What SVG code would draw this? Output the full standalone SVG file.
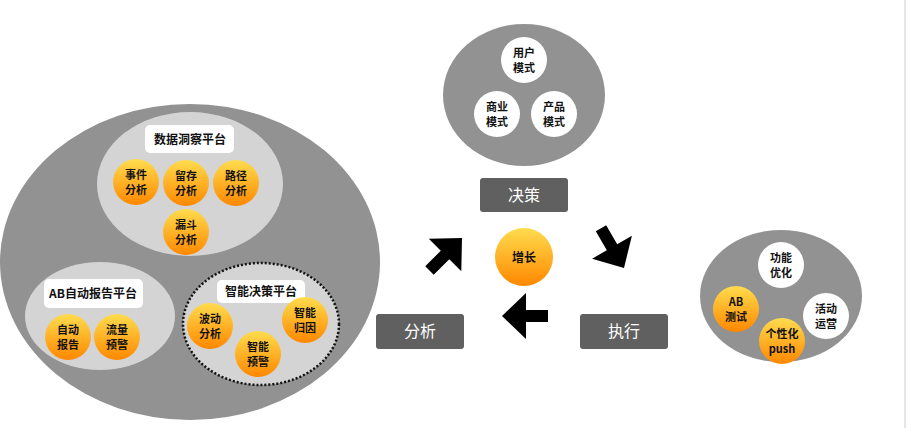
<svg xmlns="http://www.w3.org/2000/svg" width="908" height="428" viewBox="0 0 908 428">
<defs>
<linearGradient id="og" x1="0" y1="0" x2="0" y2="1"><stop offset="0" stop-color="#ffdc4e"/><stop offset="1" stop-color="#ff8800"/></linearGradient>
<style>
text{font-family:"Noto Sans CJK SC","Liberation Sans",sans-serif;text-anchor:middle}
.big{fill:#929292}.inner{fill:#d4d4d4}.lab{fill:#fff}
.o{fill:url(#og)}.w{fill:#fff}
.t{font-size:11px;font-weight:bold;fill:#111}
.lt{font-size:12px;font-weight:bold;fill:#111}
.bx{fill:#606060}.bt{font-size:16px;fill:#fff}
.arr{fill:#000}
</style>
<path id="ar" d="M0,0 L-24,-23 L-24,-6 L-46,-6 L-46,6 L-24,6 L-24,23 Z"/>
</defs>
<rect width="908" height="428" fill="#fff"/>
<line x1="905" y1="0" x2="905" y2="428" stroke="#ccc" stroke-width="1"/>
<g id="analysis-group">
<ellipse class="big" cx="190" cy="262" rx="190" ry="158"/>
<g id="data-insight">
<ellipse class="inner" cx="190" cy="184" rx="93" ry="72"/>
<rect class="lab" x="145" y="125" width="89" height="28" rx="5"/>
<text class="lt" x="190" y="144">数据洞察平台</text>
<circle class="o" cx="136" cy="182" r="23"/><text class="t" x="136" y="179">事件</text><text class="t" x="136" y="194">分析</text>
<circle class="o" cx="186" cy="183" r="23"/><text class="t" x="186" y="180">留存</text><text class="t" x="186" y="195">分析</text>
<circle class="o" cx="236" cy="183" r="23"/><text class="t" x="236" y="180">路径</text><text class="t" x="236" y="195">分析</text>
<circle class="o" cx="186" cy="232" r="23"/><text class="t" x="186" y="229">漏斗</text><text class="t" x="186" y="244">分析</text>
</g>
<g id="ab-report">
<ellipse class="inner" cx="100" cy="316" rx="75" ry="54"/>
<rect class="lab" x="44" y="279" width="99" height="29" rx="5"/>
<text class="lt" x="93" y="298">AB自动报告平台</text>
<circle class="o" cx="68" cy="337" r="23"/><text class="t" x="68" y="334">自动</text><text class="t" x="68" y="349">报告</text>
<circle class="o" cx="117" cy="337" r="23"/><text class="t" x="117" y="334">流量</text><text class="t" x="117" y="349">预警</text>
</g>
<g id="smart-decision">
<ellipse class="inner" cx="261" cy="324" rx="78" ry="61" stroke="#111" stroke-width="2.5" stroke-dasharray="2,2"/>
<rect class="lab" x="217" y="280" width="88" height="23" rx="5"/>
<text class="lt" x="261" y="296">智能决策平台</text>
<circle class="o" cx="210" cy="326" r="23"/><text class="t" x="210" y="323">波动</text><text class="t" x="210" y="338">分析</text>
<circle class="o" cx="258" cy="354" r="23"/><text class="t" x="258" y="351">智能</text><text class="t" x="258" y="366">预警</text>
<circle class="o" cx="305" cy="320" r="23"/><text class="t" x="305" y="317">智能</text><text class="t" x="305" y="332">归因</text>
</g>
</g>
<g id="decision-group">
<ellipse class="big" cx="524" cy="95" rx="81" ry="71"/>
<circle class="w" cx="524" cy="60" r="23"/><text class="t" x="524" y="57">用户</text><text class="t" x="524" y="72">模式</text>
<circle class="w" cx="497" cy="114" r="23"/><text class="t" x="497" y="111">商业</text><text class="t" x="497" y="126">模式</text>
<circle class="w" cx="554" cy="114" r="23"/><text class="t" x="554" y="111">产品</text><text class="t" x="554" y="126">模式</text>
</g>
<g id="exec-group">
<ellipse class="big" cx="781" cy="296" rx="81" ry="66"/>
<circle class="w" cx="781" cy="265" r="23"/><text class="t" x="781" y="262">功能</text><text class="t" x="781" y="277">优化</text>
<circle class="o" cx="736" cy="309" r="23"/><text class="t" x="736" y="306">AB</text><text class="t" x="736" y="321">测试</text>
<circle class="w" cx="826" cy="316" r="23"/><text class="t" x="826" y="313">活动</text><text class="t" x="826" y="328">运营</text>
<circle class="o" cx="782" cy="341" r="23"/><text class="t" x="782" y="338">个性化</text><text class="t" x="782" y="353">push</text>
</g>
<g id="box-decision"><rect class="bx" x="480" y="178" width="88" height="34" rx="3"/><text class="bt" x="524" y="201">决策</text></g>
<g id="box-analysis"><rect class="bx" x="376" y="314" width="88" height="35" rx="3"/><text class="bt" x="420" y="337">分析</text></g>
<g id="box-exec"><rect class="bx" x="580" y="314" width="88" height="35" rx="3"/><text class="bt" x="624" y="337">执行</text></g>
<g id="growth"><circle class="o" cx="524" cy="257" r="29"/><text class="lt" x="524" y="262">增长</text></g>
<g id="connectors">
<use href="#ar" class="arr" transform="translate(462,238) rotate(-45)"/>
<use href="#ar" class="arr" transform="translate(624,268) rotate(60)"/>
<use href="#ar" class="arr" transform="translate(502,316) rotate(180)"/>
</g>
</svg>
